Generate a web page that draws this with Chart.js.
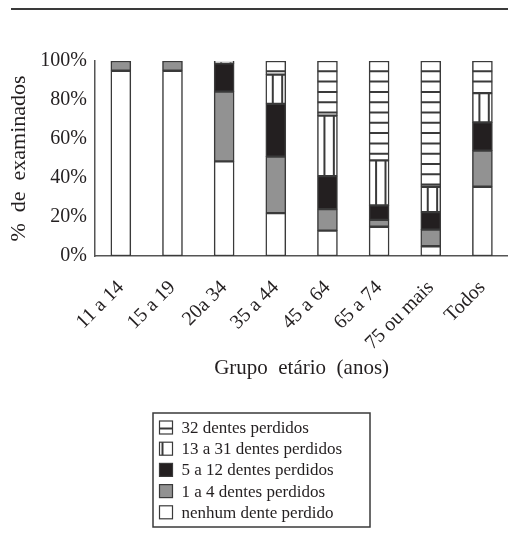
<!DOCTYPE html>
<html>
<head>
<meta charset="utf-8">
<script src="https://cdn.jsdelivr.net/npm/chart.js@4"></script>
<style>
  html, body { margin: 0; padding: 0; background: #fff; overflow: hidden; }
  #topRule { position: absolute; left: 11px; right: 0; top: 8px; height: 2px; background: #3a3a3a; }
  #wrap { position: absolute; left: 0; top: 0; width: 520px; height: 544px; }
</style>
</head>
<body>
<div id="topRule"></div>
<div id="wrap"><canvas id="chart" width="520" height="544"></canvas></div>
<script>
// ═══ Perda dentária por grupo etário ═══
const groups = ['11 a 14', '15 a 19', '20a 34', '35 a 44', '45 a 64', '65 a 74', '75 ou mais', 'Todos'];
const nenhum = [95, 95, 48.5, 22, 13, 15, 5, 35.5];
const perd1a4 = [5, 5, 35.8, 29, 11, 3.5, 8.5, 18.5];
const perd5a12 = [0, 0, 14.5, 27, 17, 7.5, 9, 14.5];
const perd13a31 = [0, 0, 0.6, 15, 31, 23, 13, 15];
const perd32 = [0, 0, 0.6, 7, 28, 51, 64.5, 16.5];
const yTicks = [0, 20, 40, 60, 80, 100];

const seriesNames = ['nenhum dente perdido', '1 a 4 dentes perdidos', '5 a 12 dentes perdidos', '13 a 31 dentes perdidos', '32 dentes perdidos'];
const ink = '#231f20';
const edge = '#3a3a3a';
const fills = ['#ffffff', '#929292', '#231f20', '#ffffff', '#ffffff'];
const serif = '"Liberation Serif", "DejaVu Serif", serif';

// hatching for the two white-with-lines series
const hatchPlugin = {
    id: 'hatch',
    afterDatasetsDraw(chart) {
        const ctx = chart.ctx;
        [3, 4].forEach(function (di) {
            const meta = chart.getDatasetMeta(di);
            meta.data.forEach(function (bar) {
                const p = bar.getProps(['x', 'y', 'base', 'width'], true);
                const top = Math.min(p.y, p.base), bot = Math.max(p.y, p.base);
                if (bot - top < 1) return;
                const left = p.x - p.width / 2;
                ctx.save();
                ctx.beginPath();
                ctx.rect(left, top, p.width, bot - top);
                ctx.clip();
                ctx.strokeStyle = edge;
                ctx.lineWidth = 2;
                ctx.beginPath();
                if (di === 3) {
                    [0.35, 0.82].forEach(function (f) {
                        ctx.moveTo(left + p.width * f, top);
                        ctx.lineTo(left + p.width * f, bot);
                    });
                } else {
                    for (let yy = top + 10.3; yy < bot - 2; yy += 10.3) {
                        ctx.moveTo(left, yy);
                        ctx.lineTo(left + p.width, yy);
                    }
                }
                ctx.stroke();
                ctx.restore();
            });
        });
    }
};

// boxed legend under the chart, top series first
const boxLegendPlugin = {
    id: 'boxLegend',
    afterDraw(chart) {
        const ctx = chart.ctx;
        const x0 = 153, y0 = 413, w = 217, h = 114;
        ctx.save();
        ctx.strokeStyle = edge;
        ctx.lineWidth = 1.5;
        ctx.strokeRect(x0, y0, w, h);
        ctx.font = '17px ' + serif;
        ctx.fillStyle = ink;
        ctx.textBaseline = 'middle';
        for (let i = 0; i < 5; i++) {
            const si = 4 - i;
            const cy = y0 + 14.5 + i * 21.2;
            const sx = x0 + 6.5, sy = cy - 6.5, s = 13;
            ctx.fillStyle = fills[si];
            ctx.fillRect(sx, sy, s, s);
            ctx.strokeStyle = edge;
            ctx.lineWidth = 1.2;
            ctx.strokeRect(sx, sy, s, s);
            ctx.lineWidth = 2;
            ctx.beginPath();
            if (si === 4) { ctx.moveTo(sx, cy + 1); ctx.lineTo(sx + s, cy + 1); }
            if (si === 3) { ctx.moveTo(sx + 3, sy); ctx.lineTo(sx + 3, sy + s); }
            ctx.stroke();
            ctx.fillStyle = ink;
            ctx.fillText(seriesNames[si], x0 + 28.5, cy + 1);
        }
        ctx.restore();
    }
};

const allSeries = [nenhum, perd1a4, perd5a12, perd13a31, perd32];

new Chart(document.getElementById('chart'), {
    type: 'bar',
    data: {
        labels: groups,
        datasets: allSeries.map(function (vals, i) {
            return {
                label: seriesNames[i],
                data: vals,
                backgroundColor: fills[i],
                borderColor: edge,
                borderWidth: 1.5,
                borderSkipped: false,
                barThickness: 20
            };
        })
    },
    options: {
        responsive: false,
        animation: false,
        devicePixelRatio: 1,
        layout: { padding: { left: 6, top: 61, right: 10, bottom: 159 } },
        plugins: { legend: { display: false }, tooltip: { enabled: false } },
        scales: {
            x: {
                stacked: true,
                grid: { display: false, drawTicks: false },
                border: { display: true, color: '#555', width: 1.5 },
                ticks: {
                    color: ink, font: { family: serif, size: 20 },
                    maxRotation: 45, minRotation: 45, padding: 20, autoSkip: false
                },
                title: {
                    display: true, text: 'Grupo  etário  (anos)', color: ink,
                    font: { family: serif, size: 21 }, padding: { top: 0, bottom: 4 }
                },
                afterFit: function (s) { s.height = 129; }
            },
            y: {
                stacked: true,
                min: 0, max: 100,
                afterBuildTicks: function (s) { s.ticks = yTicks.map(function (v) { return { value: v }; }); },
                grid: { display: false, drawTicks: false },
                border: { display: true, color: '#555', width: 1.5 },
                ticks: {
                    color: ink, font: { family: serif, size: 20 }, padding: 8,
                    callback: function (v) { return v + '%'; }
                },
                title: {
                    display: true, text: '%  de  examinados', color: ink,
                    font: { family: serif, size: 22 }, padding: { top: 0, bottom: 0 }
                },
                afterFit: function (s) { s.width = 89; }
            }
        }
    },
    plugins: [hatchPlugin, boxLegendPlugin]
});
</script>
</body>
</html>
